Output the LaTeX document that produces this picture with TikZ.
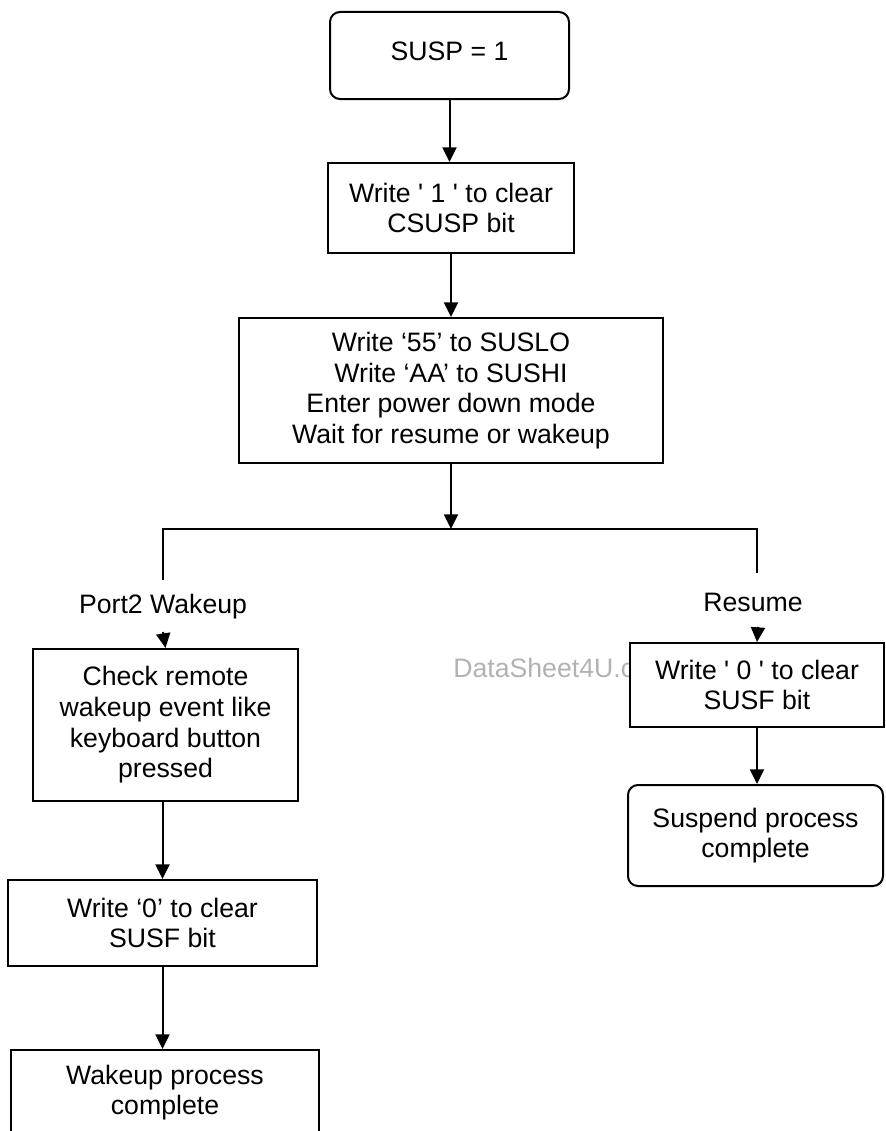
\documentclass[tikz,border=0pt]{standalone}
\usepackage{fontspec}
\setmainfont{Liberation Sans}[Ligatures=TeXOff]
\usetikzlibrary{arrows.meta}

\tikzset{
  flow/.style={draw, line width=1.5pt, inner sep=0pt, align=center,
    font=\fontsize{20}{23}\selectfont, fill=white},
  roundbox/.style={flow, rounded corners=7.5pt},
  label text/.style={inner sep=0pt, font=\fontsize{20}{23}\selectfont},
  link/.style={line width=1.5pt, -{Triangle[length=11pt, width=10.5pt]}},
  wire/.style={line width=1.5pt},
}

\begin{document}
\begin{tikzpicture}[x=0.75pt, y=-0.75pt]
  \useasboundingbox (0,0) rectangle (885,1131);
  \clip (0,0) rectangle (885,1131);

  % watermark
  \node[anchor=west, inner sep=0pt, text=black!30,
        font=\fontsize{20}{23}\selectfont] (mark) at (453,668) {DataSheet4U.c};

  % main chain
  \node[roundbox, minimum width=239*0.75pt, minimum height=87*0.75pt,
        text depth=6pt]
    (susp) at (449.5,55.5) {SUSP = 1};
  \node[flow, minimum width=246*0.75pt, minimum height=90*0.75pt]
    (csusp) at (451,208) {Write ' 1 ' to clear\\CSUSP bit};
  \node[flow, minimum width=424*0.75pt, minimum height=145*0.75pt]
    (enter) at (451,390.5) {Write ‘55’ to SUSLO\\Write ‘AA’ to SUSHI\\Enter power down mode\\Wait for resume or wakeup};

  % branch split
  \coordinate (split) at (451,529);
  \coordinate (lTop) at (163,529);
  \coordinate (rTop) at (757,529);
  \coordinate (lEnd) at (163,580);
  \coordinate (rEnd) at (757,573);

  \node[label text] (port) at (163,607) {Port2 Wakeup};
  \node[label text] (resume) at (753,602) {Resume};
  \coordinate (lHead) at (163,632);
  \coordinate (rHead) at (758,627);

  % wakeup branch
  \node[flow, minimum width=265*0.75pt, minimum height=152*0.75pt]
    (check) at (165.5,725) {Check remote\\wakeup event like\\keyboard button\\pressed};
  \node[flow, minimum width=309*0.75pt, minimum height=86*0.75pt]
    (wclr) at (162.5,923) {Write ‘0’ to clear\\SUSF bit};
  \node[flow, minimum width=308*0.75pt, minimum height=85*0.75pt]
    (wake) at (165,1092.5) {Wakeup process\\complete};

  % resume branch
  \node[flow, minimum width=254*0.75pt, minimum height=84*0.75pt]
    (rclr) at (757,685) {Write ' 0 ' to clear\\SUSF bit};
  \node[roundbox, minimum width=255*0.75pt, minimum height=101*0.75pt]
    (done) at (755.5,835.5) {Suspend process\\complete};

  % connectors
  \draw[link] (susp.south) -- (susp.south |- csusp.north);
  \draw[link] (csusp.south) -- (enter.north);
  \draw[link] (enter.south) -- (split);
  \draw[wire] (lEnd) -- (lTop) -- (rTop) -- (rEnd);
  \draw[link] (lHead) -- (check.north);
  \draw[link] (rHead) -- (rclr.north);
  \draw[link] (check.south -| wclr.north) -- (wclr.north);
  \draw[link] (wclr.south) -- (wake.north -| wclr.south);
  \draw[link] (rclr.south) -- (done.north -| rclr.south);
\end{tikzpicture}
\end{document}
